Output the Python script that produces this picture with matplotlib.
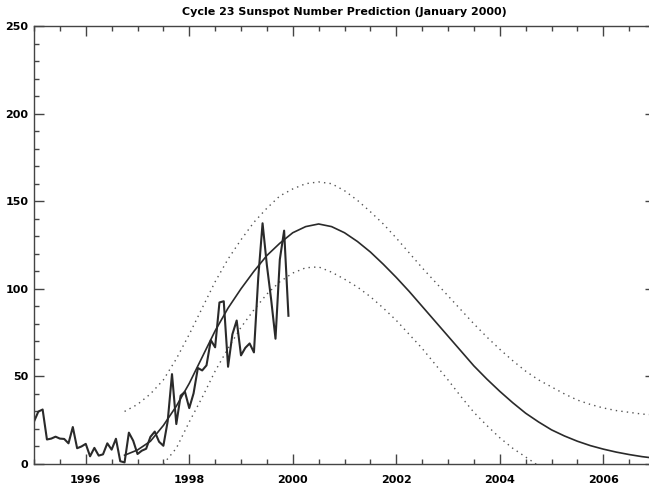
import numpy as np
import matplotlib
matplotlib.use('Agg')
import matplotlib.pyplot as plt
from matplotlib.ticker import MultipleLocator

# monthly sunspot numbers, Jan 1995 .. Dec 1999
observed = [
    24.2, 29.9, 31.1, 14.0, 14.5, 15.6, 14.5, 14.3, 11.8, 21.1, 9.0, 10.0,
    11.5, 4.4, 9.2, 4.8, 5.5, 11.8, 8.2, 14.4, 1.6, 0.9, 17.9, 13.3,
    5.7, 7.6, 8.7, 15.5, 18.5, 12.7, 10.4, 24.4, 51.3, 22.8, 39.0, 41.2,
    31.9, 40.3, 54.8, 53.4, 56.3, 70.7, 66.6, 92.2, 92.9, 55.5, 74.0, 81.9,
    62.0, 66.3, 68.8, 63.7, 106.4, 137.4, 113.5, 93.7, 71.5, 116.7, 133.2, 84.6,
]
obs_start = 1995.0

# predicted curve, quarter-year steps from 1996.75
pred_start = 1996.75
predicted = [
    5, 8, 13, 22, 33, 46, 61, 76, 89, 100, 110, 119, 126, 132, 135.5, 137,
    135.5, 132, 127, 121, 114, 106.5, 98.5, 90, 81.5, 73, 64.5, 56, 48.5,
    41.5, 35, 29, 24, 19.5, 16, 13, 10.5, 8.5, 6.8, 5.4, 4.2, 3.3,
]

# upper bound, quarter-year steps from 1996.75
upper_start = 1996.75
upper = [
    30, 34, 40, 48, 60, 74, 89, 104, 117, 128, 138, 146, 153, 157, 160, 161,
    160, 156, 150.5, 144, 137, 129, 120.5, 112, 104, 96, 88, 80, 72.5, 65.5,
    59, 53, 48, 44, 40, 36.5, 34, 32, 30.5, 29.5, 28.5, 28,
]

# lower bound, quarter-year steps from 1997.5
lower_start = 1997.5
lower = [
    0, 9, 24, 38, 53, 66, 78, 88, 97, 104, 109, 112, 112.5, 109.5, 105.5, 101,
    95.5, 89, 82, 74, 66, 57, 48, 38.5, 29.5, 22, 15, 9, 4, -1,
]

x_ticks = [1996, 1998, 2000, 2002, 2004, 2006]
y_ticks = [0, 50, 100, 150, 200, 250]


def months(start, n):
    return start + np.arange(n) / 12.0


def quarters(start, n):
    return start + np.arange(n) * 0.25


def main():
    plt.rcParams['font.family'] = ['DejaVu Sans']
    plt.rcParams['font.weight'] = 'bold'

    fig = plt.figure(figsize=(6.49, 4.88), dpi=100)
    ax = fig.add_axes([34 / 649, 24 / 488, 621 / 649, 438 / 488])

    ink = '#2a2a2a'
    dots = '#555555'
    ax.plot(quarters(upper_start, len(upper)), upper, color=dots,
            lw=1.0, ls=(0, (1, 3)))
    ax.plot(quarters(lower_start, len(lower)), lower, color=dots,
            lw=1.0, ls=(0, (1, 3)))
    ax.plot(quarters(pred_start, len(predicted)), predicted, color=ink, lw=1.2)
    ax.plot(months(obs_start, len(observed)), observed, color=ink, lw=1.5)

    ax.set_xlim(1995, 2007)
    ax.set_ylim(0, 250)
    ax.set_xticks(x_ticks)
    ax.set_yticks(y_ticks)
    ax.xaxis.set_minor_locator(MultipleLocator(0.5))
    ax.yaxis.set_minor_locator(MultipleLocator(10))
    ax.tick_params(which='both', direction='in', top=True, right=True,
                   color='#444444', labelsize=8, pad=8)
    ax.tick_params(which='major', length=7, width=1)
    ax.tick_params(which='minor', length=3.5, width=1)
    ax.tick_params(axis='y', pad=4)
    for s in ax.spines.values():
        s.set_color('#444444')
        s.set_linewidth(1.0)

    fig.text(0.53, 0.975, 'Cycle 23 Sunspot Number Prediction (January 2000)',
             ha='center', va='center', fontsize=8, fontweight='bold')

    fig.savefig('out.png', dpi=100)


if __name__ == '__main__':
    main()
